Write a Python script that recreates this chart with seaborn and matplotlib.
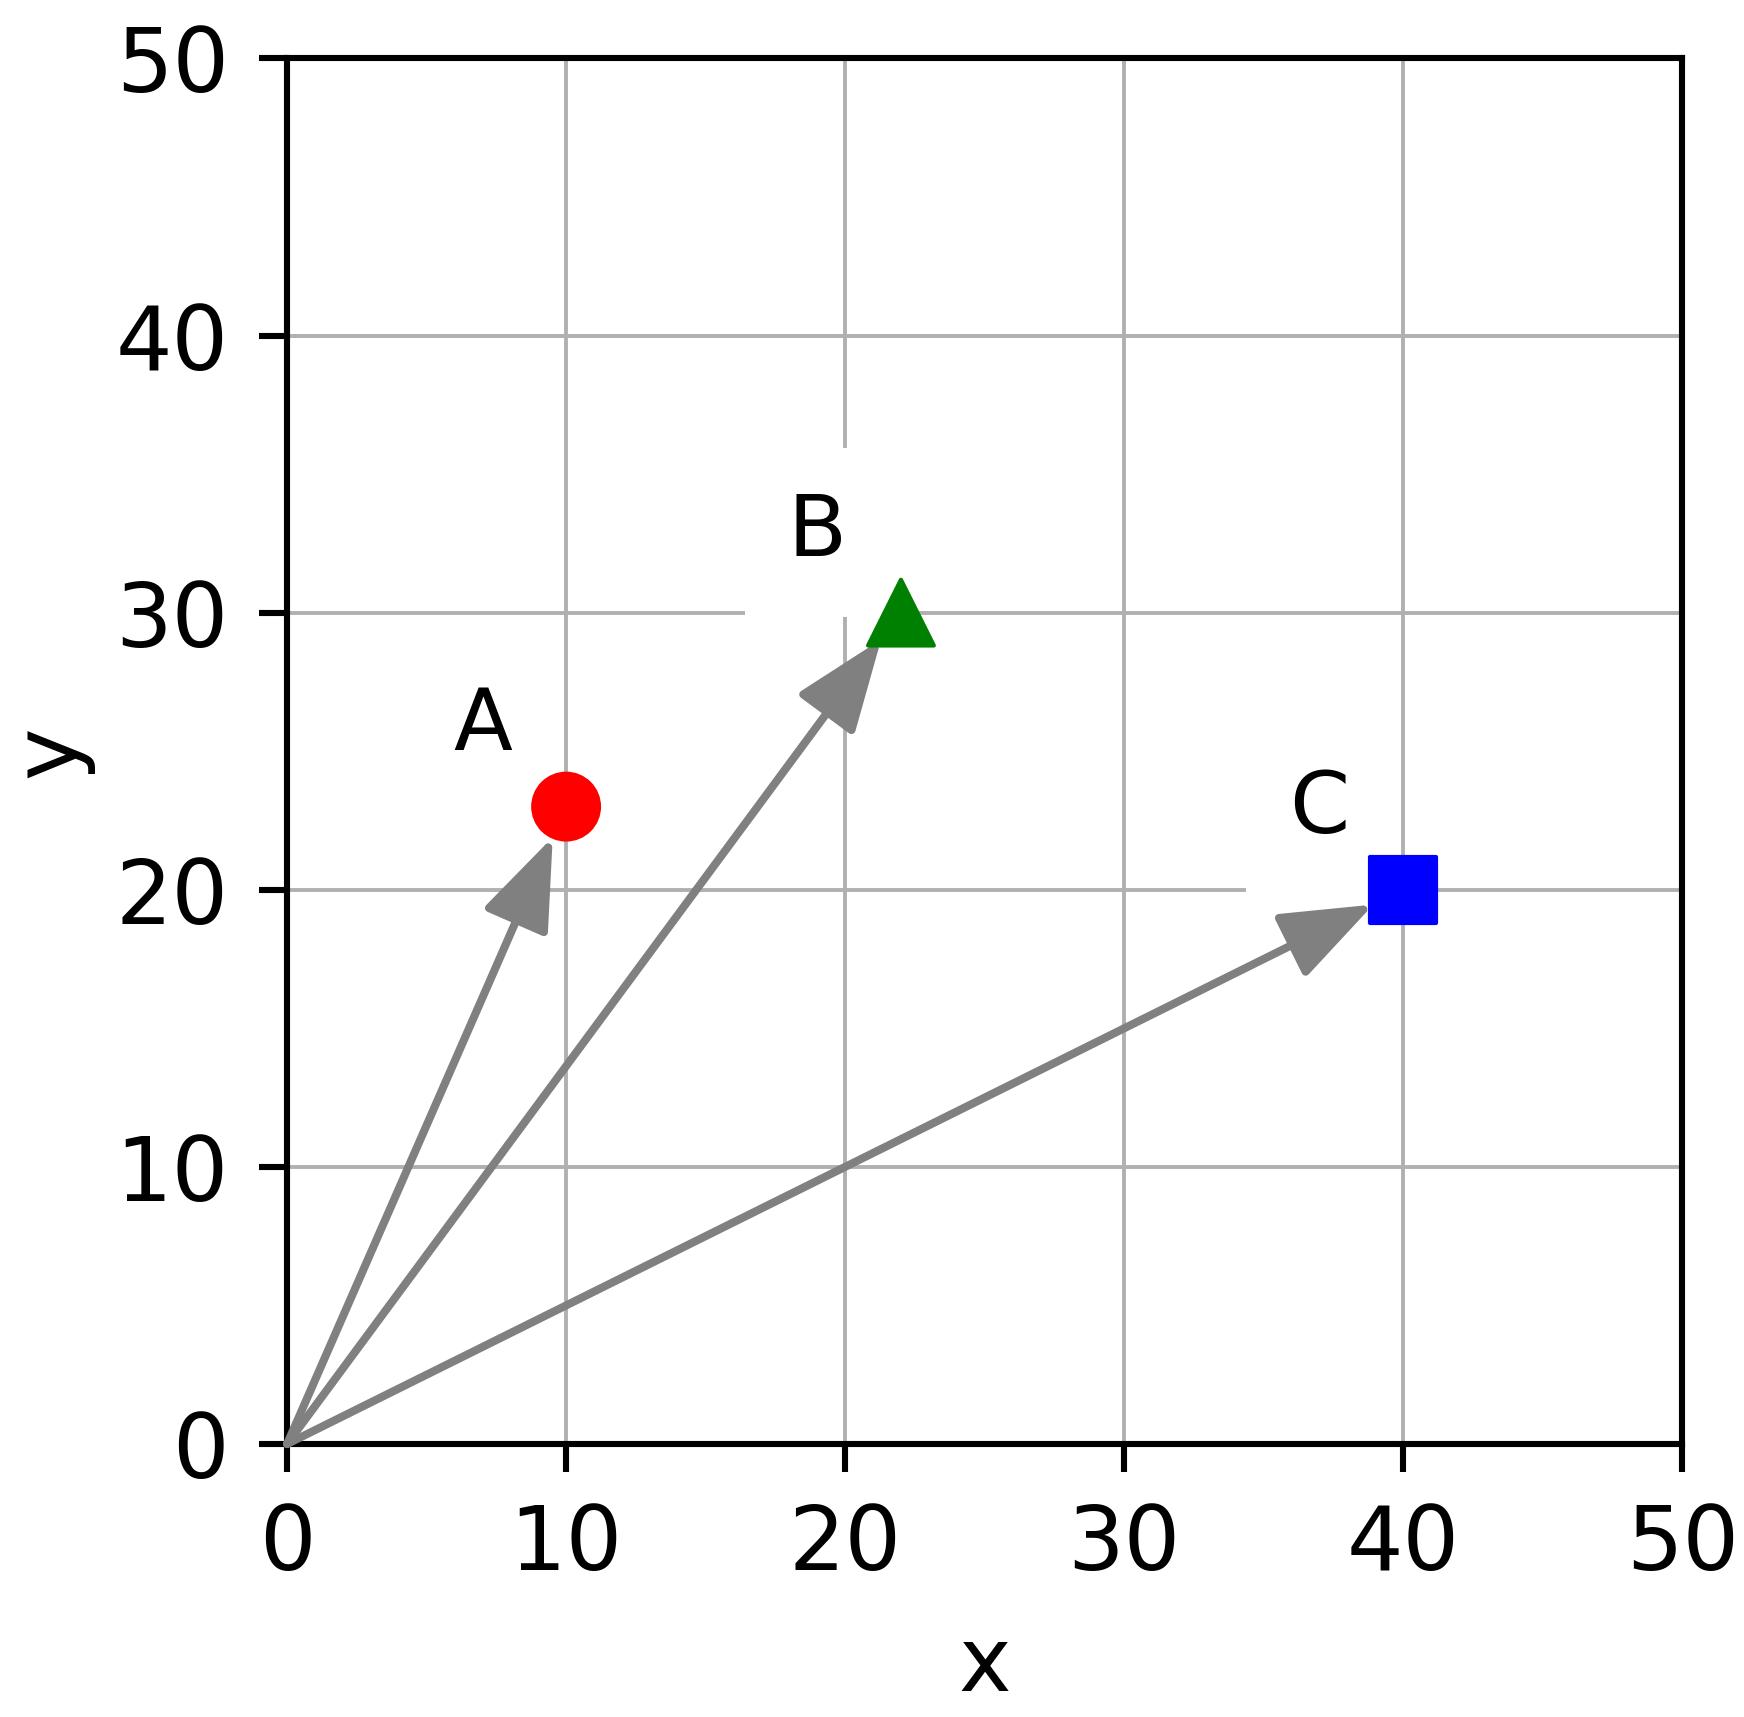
import pandas as pd
import seaborn as sns
import matplotlib.pyplot as plt

# point data
labels = ['A', 'B', 'C']
x_vals = [10, 22, 40]
y_vals = [23, 30, 20]

palette = {'A': 'red', 'B': 'green', 'C': 'blue'}
markers = {'A': 'o', 'B': '^', 'C': 's'}

df = pd.DataFrame({'label': labels, 'x': x_vals, 'y': y_vals})

sns.set_style('white')
plt.rcParams['font.family'] = ['DejaVu Sans']
plt.rcParams['text.color'] = 'black'
plt.rcParams['axes.labelcolor'] = 'black'
plt.rcParams['xtick.color'] = 'black'
plt.rcParams['ytick.color'] = 'black'

fig = plt.figure(figsize=(8.72, 8.585), dpi=200)
ax = fig.add_axes([0.1646, 0.159, 0.80, 0.807])

# arrows from origin to each point
for _, row in df.iterrows():
    ax.annotate('', xy=(row['x'], row['y']), xytext=(0, 0),
                arrowprops=dict(arrowstyle='-|>,head_length=0.95,head_width=0.36',
                                color='gray', lw=2.9, mutation_scale=30,
                                shrinkA=0, shrinkB=12), zorder=3)

sns.scatterplot(data=df, x='x', y='y', hue='label', style='label',
                palette=palette, markers=markers, s=560, linewidth=1.5,
                legend=False, ax=ax, zorder=4)
for coll in ax.collections:
    coll.set_edgecolor('face')
    coll.set_joinstyle('round')

# labels with white boxes
for _, row in df.iterrows():
    ax.text(row['x'] - 3, row['y'] + 2.9, row['label'], fontsize=31,
            ha='center', va='center', zorder=2.5,
            bbox=dict(boxstyle='square,pad=0.5', fc='white', ec='none'))

ax.set_xlim(0, 50)
ax.set_ylim(0, 50)
ax.set_xticks([0, 10, 20, 30, 40, 50])
ax.set_yticks([0, 10, 20, 30, 40, 50])
ax.grid(True, color='#b0b0b0', linewidth=1.4)
ax.set_axisbelow(True)
for sp in ax.spines.values():
    sp.set_color('black')
    sp.set_linewidth(2.2)
ax.tick_params(axis='both', labelsize=32, length=10, width=2.2,
               direction='out', color='black', bottom=True, left=True)
ax.tick_params(axis='x', pad=11)
ax.tick_params(axis='y', pad=11)
ax.set_xlabel('x', fontsize=32, labelpad=12)
ax.set_ylabel('y', fontsize=32, labelpad=8)

fig.savefig('out.png', dpi=200)
